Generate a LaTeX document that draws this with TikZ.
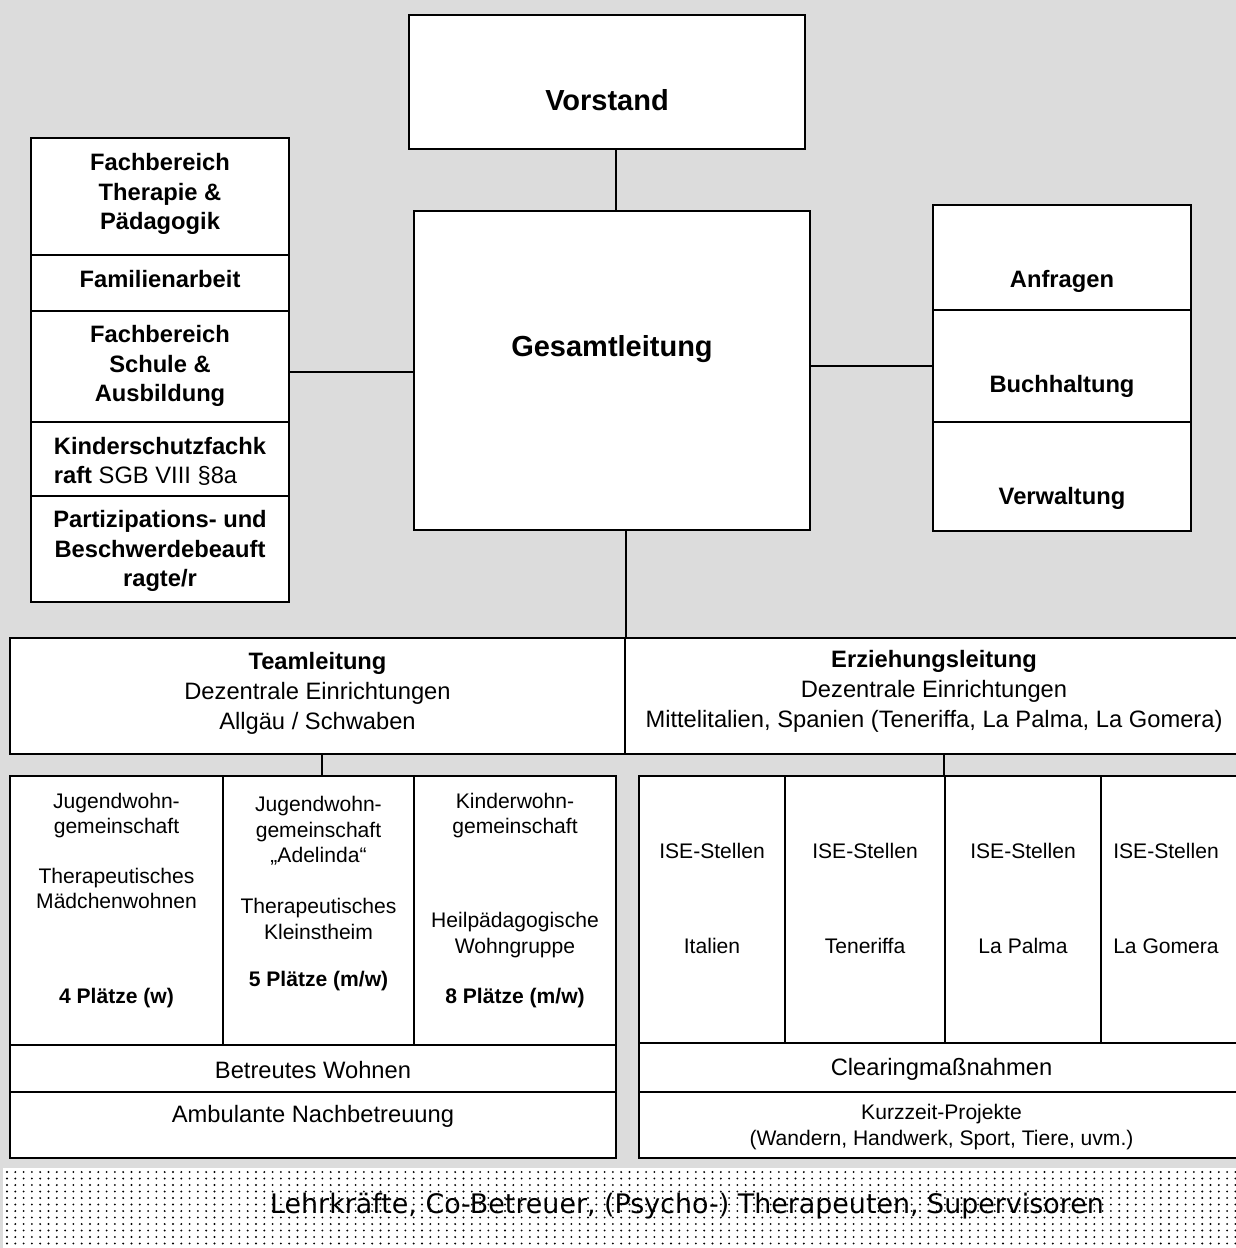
\documentclass[tikz,border=0pt]{standalone}
\usepackage{fontspec}
\setmainfont{Liberation Sans}
\newfontfamily\dejavu{DejaVu Sans}
\usetikzlibrary{fit}
\definecolor{bggray}{RGB}{220,220,220}

\begin{document}
\begin{tikzpicture}[x=0.02cm, y=-0.02cm]

		\tikzstyle{box}=[rectangle, draw, fill=white, inner sep=0pt, line width=1.1pt]
		\tikzstyle{head}=[font=\fontsize{16.5}{20}\selectfont\bfseries]
		\tikzstyle{unit}=[align=center, inner sep=0pt, font=\fontsize{13.5}{16.7}\selectfont\bfseries]
		\tikzstyle{lead}=[align=center, inner sep=0pt, font=\fontsize{13.5}{17}\selectfont]
		\tikzstyle{small}=[align=center, inner sep=0pt, font=\fontsize{12}{14.5}\selectfont]
		\tikzstyle{places}=[small, font=\fontsize{12}{14.5}\selectfont\bfseries]
		\tikzstyle{link}=[line width=1pt]

		\clip (0,0) rectangle (1236,1248);
		\fill[bggray] (0,0) rectangle (1236,1248);

		% Leitung
		\node[box, fit={(409,15) (805,149)}] (vorstand) {};
		\node[head] (vorstandtxt) at (607,100) {Vorstand};
		\node[box, fit={(414,211) (810,530)}] (gesamt) {};
		\node[head] (gesamttxt) at (612,349) {Gesamtleitung};

		% Fachbereiche links
		\node[box, fit={(31,138) (289,255)}] (fach1) {};
		\node[box, fit={(31,255) (289,311)}] (fam) {};
		\node[box, fit={(31,311) (289,422)}] (fach2) {};
		\node[box, fit={(31,422) (289,496)}] (kinder) {};
		\node[box, fit={(31,496) (289,602)}] (partiz) {};
		\node[unit] (fach1txt) at (160,194) {Fachbereich\\Therapie \&\\Pädagogik};
		\node[unit] (famtxt) at (160,279) {Familienarbeit};
		\node[unit] (fach2txt) at (160,366) {Fachbereich\\Schule \&\\Ausbildung};
		\node[unit, align=left] (kindertxt) at (160,461.5) {Kinderschutzfachk\\raft \mdseries SGB VIII §8a};
		\node[unit] (partiztxt) at (160,551) {Partizipations- und\\Beschwerdebeauft\\ragte/r};

		% Verwaltung rechts
		\node[box, fit={(933,205) (1191,310)}] (anf) {};
		\node[unit] (anftxt) at (1062,281) {Anfragen};
		\node[box, fit={(933,310) (1191,422)}] (buch) {};
		\node[unit] (buchtxt) at (1062,386) {Buchhaltung};
		\node[box, fit={(933,422) (1191,531)}] (verw) {};
		\node[unit] (verwtxt) at (1062,498) {Verwaltung};

		% Team- und Erziehungsleitung
		\node[box, fit={(10,638) (625,754)}] (team) {};
		\node[lead] (teamtxt) at (317.5,693.5) {\textbf{Teamleitung}\\Dezentrale Einrichtungen\\Allgäu / Schwaben};
		\node[box, fit={(625,638) (1244,754)}] (erz) {};
		\node[lead] (erztxt) at (934,691) {\textbf{Erziehungsleitung}\\Dezentrale Einrichtungen\\Mittelitalien, Spanien (Teneriffa, La Palma, La Gomera)};

		% Wohngruppen
		\node[box, fit={(10,776) (223,1045)}] (jwg1) {};
		\node[box, fit={(223,776) (414,1045)}] (jwg2) {};
		\node[box, fit={(414,776) (616,1045)}] (kwg) {};
		\node[small] (jwg1a) at (116.5,815.5) {Jugendwohn-\\gemeinschaft};
		\node[small] (jwg1b) at (116.5,888.5) {Therapeutisches\\Mädchenwohnen};
		\node[places] (jwg1c) at (116.5,998) {4 Plätze (w)};
		\node[small] (jwg2a) at (318.5,831) {Jugendwohn-\\gemeinschaft\\„Adelinda“};
		\node[small] (jwg2b) at (318.5,919) {Therapeutisches\\Kleinstheim};
		\node[places] (jwg2c) at (318.5,981) {5 Plätze (m/w)};
		\node[small] (kwga) at (515,815.5) {Kinderwohn-\\gemeinschaft};
		\node[small] (kwgb) at (515,935) {Heilpädagogische\\Wohngruppe};
		\node[places] (kwgc) at (515,998) {8 Plätze (m/w)};
		\node[box, fit={(10,1045) (616,1092)}] (betreut) {};
		\node[lead] (betreuttxt) at (313,1070) {Betreutes Wohnen};
		\node[box, fit={(10,1092) (616,1158)}] (ambulant) {};
		\node[lead] (ambulanttxt) at (313,1116) {Ambulante Nachbetreuung};

		% ISE-Stellen
		\node[box, fit={(639,776) (785,1043)}] (ise1) {};
		\node[box, fit={(785,776) (945,1043)}] (ise2) {};
		\node[box, fit={(945,776) (1101,1043)}] (ise3) {};
		\node[box, fit={(1101,776) (1244,1043)}] (ise4) {};
		\node[small] (ise1a) at (712,851) {ISE-Stellen};
		\node[small] (ise1b) at (712,946) {Italien};
		\node[small] (ise2a) at (865,851) {ISE-Stellen};
		\node[small] (ise2b) at (865,946) {Teneriffa};
		\node[small] (ise3a) at (1023,851) {ISE-Stellen};
		\node[small] (ise3b) at (1023,946) {La Palma};
		\node[small] (ise4a) at (1166,851) {ISE-Stellen};
		\node[small] (ise4b) at (1166,946) {La Gomera};
		\node[box, fit={(639,1043) (1244,1092)}] (clearing) {};
		\node[lead] (clearingtxt) at (941.5,1069) {Clearingmaßnahmen};
		\node[box, fit={(639,1092) (1244,1158)}] (kurz) {};
		\node[small, font=\fontsize{12}{15.3}\selectfont] (kurztxt) at (941.5,1127) {Kurzzeit-Projekte\\(Wandern, Handwerk, Sport, Tiere, uvm.)};

		% Verbindungen
		\draw[link] ([xshift=0.18cm]vorstand.south) -- ++(0,62);
		\draw[link] ([yshift=-0.11cm]fach2.east) -- ++(125,0);
		\draw[link] (gesamt.east |- buch.west) -- (buch.west);
		\draw[link] (team.north east |- gesamt.south) -- (team.north east);
		\draw[link] ([xshift=0.09cm]team.south) -- ++(0,22);
		\draw[link] (ise3.north west |- erz.south) -- (ise3.north west);

		% Fachkraefte
		\fill[white] (3,1168) rectangle (1236,1248);
		\foreach \i in {0,...,148}{
			\foreach \j in {0,...,11}{
				\fill[black] (7+\i*8.3,1172+\j*6.5) circle (0.6pt);
			}
		}
		\node[font=\dejavu\fontsize{15.3}{18}\selectfont] (staff) at (687,1206) {Lehrkräfte, Co-Betreuer, (Psycho-) Therapeuten, Supervisoren};

\end{tikzpicture}
\end{document}
